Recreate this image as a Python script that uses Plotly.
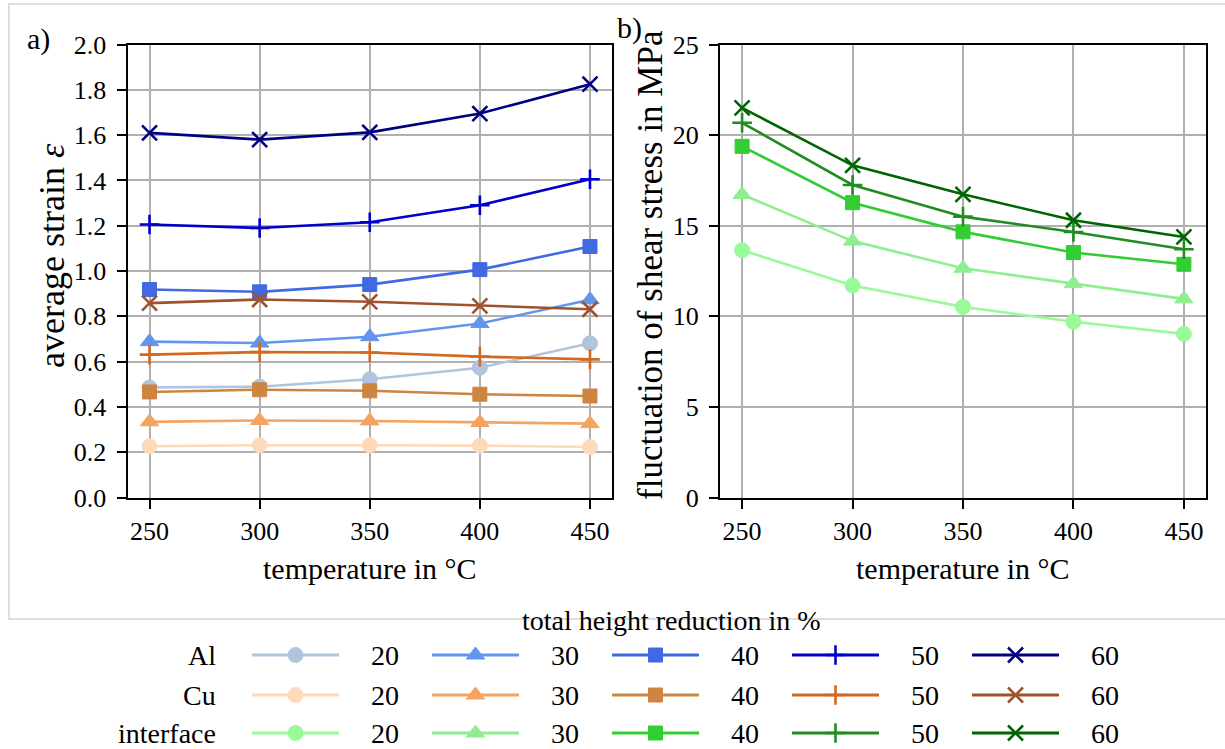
import plotly.graph_objects as go

# ---------------------------------------------------------------- data
temperature = [250, 300, 350, 400, 450]
reduction_labels = ["20", "30", "40", "50", "60"]

# average strain (Al)
al_20 = [0.486, 0.489, 0.522, 0.573, 0.681]
al_30 = [0.688, 0.682, 0.710, 0.768, 0.873]
al_40 = [0.918, 0.908, 0.940, 1.006, 1.108]
al_50 = [1.205, 1.190, 1.215, 1.290, 1.405]
al_60 = [1.610, 1.580, 1.612, 1.695, 1.825]

# average strain (Cu)
cu_20 = [0.226, 0.231, 0.231, 0.229, 0.223]
cu_30 = [0.334, 0.340, 0.338, 0.331, 0.326]
cu_40 = [0.466, 0.476, 0.471, 0.456, 0.448]
cu_50 = [0.631, 0.642, 0.640, 0.622, 0.610]
cu_60 = [0.858, 0.874, 0.864, 0.846, 0.831]

# fluctuation of shear stress at the interface (MPa)
if_20 = [13.65, 11.70, 10.52, 9.70, 9.03]
if_30 = [16.72, 14.15, 12.65, 11.80, 10.96]
if_40 = [19.38, 16.27, 14.66, 13.52, 12.87]
if_50 = [20.68, 17.25, 15.50, 14.65, 13.70]
if_60 = [21.50, 18.33, 16.73, 15.30, 14.38]

al_colors = ["#b0c4de", "#6495ed", "#4169e1", "#0000cd", "#000080"]
cu_colors = ["#ffdab9", "#f4a460", "#cd853f", "#d2691e", "#a0522d"]
if_colors = ["#98fb98", "#90ee90", "#32cd32", "#228b22", "#006400"]
symbols = ["circle", "triangle-up", "square", "cross-thin", "x-thin"]
symbol_sizes = [15, 16, 14, 14, 15]

FONT = "Liberation Serif"
W, H = 1225, 749


def px(x):
    return x / W


def py(y):
    return 1 - y / H


def marker_style(i, color):
    thin = symbols[i].endswith("-thin")
    return dict(
        symbol=symbols[i],
        size=symbol_sizes[i],
        color=color,
        line=dict(color=color, width=2.6 if thin else 1),
    )


fig = go.Figure()

groups = [
    ([al_20, al_30, al_40, al_50, al_60], al_colors, "x", "y"),
    ([cu_20, cu_30, cu_40, cu_50, cu_60], cu_colors, "x", "y"),
    ([if_20, if_30, if_40, if_50, if_60], if_colors, "x2", "y2"),
]

# Al then Cu on panel a, interface on panel b
for series, colors, xa, ya in groups:
    for i, vals in enumerate(series):
        fig.add_trace(go.Scatter(
            x=temperature, y=vals, mode="lines+markers",
            line=dict(color=colors[i], width=2.6),
            marker=marker_style(i, colors[i]),
            xaxis=xa, yaxis=ya, showlegend=False, hoverinfo="skip",
        ))

# ---------------------------------------------------------------- legend grid
row_names = ["Al", "Cu", "interface"]
row_colors = [al_colors, cu_colors, if_colors]
row_y = [655, 695, 733]
col_x0 = 252
col_step = 180
sample_len = 87

for r, name in enumerate(row_names):
    for c in range(5):
        x0 = col_x0 + c * col_step
        xm = x0 + sample_len / 2
        col = row_colors[r][c]
        fig.add_trace(go.Scatter(
            x=[x0, x0 + sample_len], y=[row_y[r], row_y[r]], mode="lines",
            line=dict(color=col, width=3.2), xaxis="x3", yaxis="y3",
            showlegend=False, hoverinfo="skip",
        ))
        fig.add_trace(go.Scatter(
            x=[xm], y=[row_y[r]], mode="markers",
            marker=marker_style(c, col), xaxis="x3", yaxis="y3",
            showlegend=False, hoverinfo="skip",
        ))

annotations = []
for r, name in enumerate(row_names):
    annotations.append(dict(
        text=name, x=px(218), y=py(row_y[r]), xref="paper", yref="paper",
        xanchor="right", yanchor="middle", showarrow=False,
        font=dict(family=FONT, size=28, color="black"),
    ))
    for c, lab in enumerate(reduction_labels):
        annotations.append(dict(
            text=lab, x=px(385 + c * col_step), y=py(row_y[r]),
            xref="paper", yref="paper", xanchor="center", yanchor="middle",
            showarrow=False, font=dict(family=FONT, size=28, color="black"),
        ))

annotations += [
    dict(text="total height reduction in %", x=px(671), y=py(620),
         xref="paper", yref="paper", xanchor="center", yanchor="middle",
         showarrow=False, font=dict(family=FONT, size=28, color="black")),
    dict(text="a)", x=px(38), y=py(39), xref="paper", yref="paper",
         xanchor="center", yanchor="middle", showarrow=False,
         font=dict(family=FONT, size=30, color="black")),
    dict(text="b)", x=px(629), y=py(28), xref="paper", yref="paper",
         xanchor="center", yanchor="middle", showarrow=False,
         font=dict(family=FONT, size=30, color="black")),
    dict(text="average strain <i>ε</i>", x=px(52), y=py(256),
         xref="paper", yref="paper", xanchor="center", yanchor="middle",
         textangle=-90, showarrow=False,
         font=dict(family=FONT, size=36, color="black")),
    dict(text="fluctuation of shear stress in MPa", x=px(650), y=py(265),
         xref="paper", yref="paper", xanchor="center", yanchor="middle",
         textangle=-90, showarrow=False,
         font=dict(family=FONT, size=35, color="black")),
    dict(text="temperature in °C", x=px(369.5), y=py(568),
         xref="paper", yref="paper", xanchor="center", yanchor="middle",
         showarrow=False, font=dict(family=FONT, size=30, color="black")),
    dict(text="temperature in °C", x=px(963), y=py(568),
         xref="paper", yref="paper", xanchor="center", yanchor="middle",
         showarrow=False, font=dict(family=FONT, size=30, color="black")),
]

ydom = [py(497.5), py(44.5)]

axis_common = dict(
    showgrid=True, gridcolor="#b0b0b0", gridwidth=1.5,
    showline=True, linecolor="black", linewidth=2, mirror=True,
    ticks="outside", ticklen=9, tickwidth=1.6, tickcolor="black",
    tickfont=dict(family=FONT, size=26, color="black"),
    zeroline=False, automargin=False,
)

fig.update_layout(
    width=W, height=H,
    margin=dict(l=0, r=0, t=0, b=0),
    paper_bgcolor="white", plot_bgcolor="rgba(0,0,0,0)",
    showlegend=False,
    xaxis=dict(domain=[px(127.5), px(612)], range=[240, 460],
               tickvals=temperature, anchor="y", **axis_common),
    yaxis=dict(domain=ydom, range=[0, 2.0], dtick=0.2, tickformat=".1f",
               anchor="x", ticklabelstandoff=5, **axis_common),
    xaxis2=dict(domain=[px(720), px(1206)], range=[240, 460],
                tickvals=temperature, anchor="y2", **axis_common),
    yaxis2=dict(domain=ydom, range=[0, 25], dtick=5,
                anchor="x2", ticklabelstandoff=5, **axis_common),
    xaxis3=dict(domain=[0, 1], range=[0, W], visible=False, anchor="y3"),
    yaxis3=dict(domain=[0, 1], range=[H, 0], visible=False, anchor="x3"),
    annotations=annotations,
    shapes=[dict(type="rect", xref="paper", yref="paper",
                 x0=px(9), y0=py(619), x1=px(1240), y1=py(4),
                 line=dict(color="#d4d4d4", width=1.5), layer="below")],
)

fig.write_html("out.html")
